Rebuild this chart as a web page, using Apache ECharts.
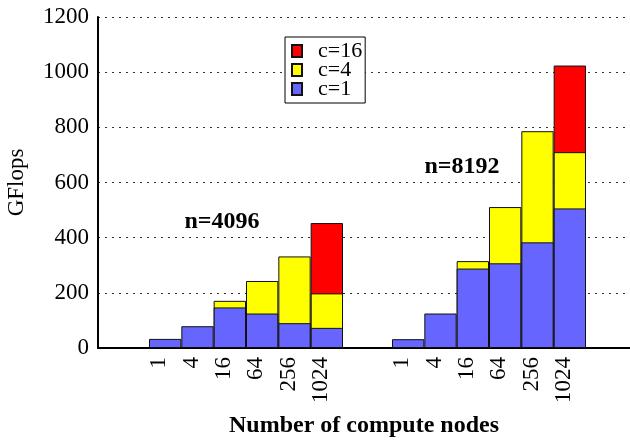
<!DOCTYPE html>
<html><head><meta charset="utf-8">
<script src="https://cdn.jsdelivr.net/npm/echarts@6/dist/echarts.min.js"></script>
<style>html,body{margin:0;padding:0;background:#fff}#c{width:630px;height:440px}</style>
</head><body><div id="c"></div>
<script>
const nodes = ["1","4","16","64","256","1024"];
const yTicks = [0,200,400,600,800,1000,1200];
// n=4096
const c1_4096  = [33, 79, 147, 125, 90, 73];
const c4_4096  = [null, null, 171, 243, 332, 198];
const c16_4096 = [null, null, null, null, null, 453];
// n=8192
const c1_8192  = [32, 125, 288, 307, 383, 506];
const c4_8192  = [null, null, 315, 511, 786, 710];
const c16_8192 = [null, null, null, null, null, 1024];
const groupLabels = ["n=4096", "n=8192"];
const seriesNames = ["c=16", "c=4", "c=1"];

const FONT = "Liberation Serif";
const colors = {"c=16":"#ff0000","c=4":"#ffff00","c=1":"#6666ff"};
const chart = echarts.init(document.getElementById('c'), null, {renderer:'canvas'});

function mk(name, data, idx){
  return {type:'bar', name, data, xAxisIndex:idx, yAxisIndex:idx,
    barWidth:'100%', barGap:'-100%', animation:false,
    itemStyle:{color:colors[name], borderColor:'#111', borderWidth:1}};
}
const G = {top:17, bottom:92, outerBoundsMode:'none', containLabel:false};
const xLab = {rotate:90, fontFamily:FONT, fontSize:23, color:'#000', margin:9, verticalAlign:'bottom', lineHeight:12};
chart.setOption({
  animation:false,
  textStyle:{fontFamily:FONT},
  grid:[
    Object.assign({left:98, right:0}, G),
    Object.assign({left:149, width:194}, G),
    Object.assign({left:392, width:194}, G)
  ],
  legend:{
    data:seriesNames, orient:'vertical', left:285, top:37,
    backgroundColor:'#fff', borderColor:'#000', borderWidth:1,
    padding:[3,3,3,6], itemGap:-3, itemWidth:10, itemHeight:12, icon:'rect',
    textStyle:{fontFamily:FONT, fontSize:22, color:'#000', lineHeight:19, padding:[0,0,0,11]}
  },
  xAxis:[
    {gridIndex:0, type:'value', min:0, max:1,
     axisLine:{show:true, onZero:false, lineStyle:{color:'#000', width:2}},
     axisTick:{show:false}, axisLabel:{show:false}, splitLine:{show:false},
     name:'Number of compute nodes', nameLocation:'middle', nameGap:66,
     nameTextStyle:{fontFamily:FONT, fontSize:24, fontWeight:'bold', color:'#000'}},
    {gridIndex:1, type:'category', data:nodes, axisLine:{show:false}, axisTick:{show:false}, axisLabel:xLab},
    {gridIndex:2, type:'category', data:nodes, axisLine:{show:false}, axisTick:{show:false}, axisLabel:xLab}
  ],
  yAxis:[
    {gridIndex:0, type:'value', min:yTicks[0], max:yTicks[yTicks.length-1], interval:200,
     axisLine:{show:true, lineStyle:{color:'#000', width:2}}, axisTick:{show:false},
     axisLabel:{fontFamily:FONT, fontSize:23, color:'#000', margin:9, formatter:v=>String(v)},
     splitLine:{show:true, lineStyle:{color:'#333', type:[2,5], width:1}},
     name:'GFlops', nameLocation:'middle', nameRotate:90, nameGap:70,
     nameTextStyle:{fontFamily:FONT, fontSize:23, color:'#000'}},
    {gridIndex:1, type:'value', min:0, max:1200, show:false},
    {gridIndex:2, type:'value', min:0, max:1200, show:false}
  ],
  series:[
    mk('c=16', c16_4096, 1), mk('c=4', c4_4096, 1), mk('c=1', c1_4096, 1),
    mk('c=16', c16_8192, 2), mk('c=4', c4_8192, 2), mk('c=1', c1_8192, 2)
  ],
  graphic:[
    {type:'text', x:222, y:222, style:{text:groupLabels[0], font:'bold 24px "Liberation Serif"', fill:'#000', align:'center', verticalAlign:'middle'}},
    {type:'text', x:462, y:167, style:{text:groupLabels[1], font:'bold 24px "Liberation Serif"', fill:'#000', align:'center', verticalAlign:'middle'}}
  ]
});
</script></body></html>
